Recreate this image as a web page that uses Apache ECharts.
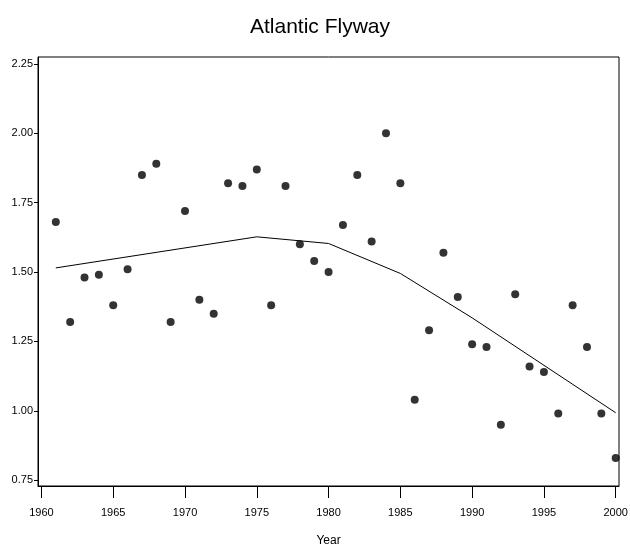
<!DOCTYPE html>
<html>
<head>
<meta charset="utf-8">
<script src="https://cdn.jsdelivr.net/npm/echarts@6/dist/echarts.min.js"></script>
<style>
html,body{margin:0;padding:0;background:#fff;}
#chart{width:630px;height:548px;}
</style>
</head>
<body>
<div id="chart"></div>
<script>
var years = [1961,1962,1963,1964,1965,1966,1967,1968,1969,1970,
             1971,1972,1973,1974,1975,1976,1977,1978,1979,1980,
             1981,1982,1983,1984,1985,1986,1987,1988,1989,1990,
             1991,1992,1993,1994,1995,1996,1997,1998,1999,2000];
var values = [1.68,1.32,1.48,1.49,1.38,1.51,1.85,1.89,1.32,1.72,
              1.40,1.35,1.82,1.81,1.87,1.38,1.81,1.60,1.54,1.50,
              1.67,1.85,1.61,2.00,1.82,1.04,1.29,1.57,1.41,1.24,
              1.23,0.95,1.42,1.16,1.14,0.99,1.38,1.23,0.99,0.83];
var fitYears = [1961,1975,1980,1985,1990,2000];
var fitValues = [1.515,1.627,1.603,1.495,1.335,0.993];
var xTicks = [1960,1965,1970,1975,1980,1985,1990,1995,2000];
var yTicks = [0.75,1.00,1.25,1.50,1.75,2.00,2.25];
var titleText = 'Atlantic Flyway';
var xName = 'Year';

var FONT = "'Liberation Sans Narrow','Liberation Sans',Arial,sans-serif";
var chart = echarts.init(document.getElementById('chart'), null, {renderer:'canvas'});
chart.setOption({
  animation:false,
  backgroundColor:'#fff',
  title:{
    text:titleText, left:245, top:12,
    textStyle:{fontFamily:FONT, fontSize:21, fontWeight:'normal', color:'#000'}
  },
  grid:{left:38, right:11, top:57, bottom:62, show:true, borderColor:'#000', borderWidth:1,
        containLabel:false, outerBoundsMode:'none'},
  xAxis:{
    type:'value', min:1959.76, max:2000.23,
    name:xName, nameLocation:'middle', nameGap:49,
    nameTextStyle:{fontFamily:FONT, fontSize:12, color:'#000'},
    axisLine:{show:true, onZero:false, lineStyle:{color:'#000', width:1}},
    axisTick:{show:true, length:12, customValues:xTicks, lineStyle:{color:'#000'}},
    axisLabel:{customValues:xTicks, margin:21, fontFamily:FONT, fontSize:11, color:'#000',
      formatter:function(v){return String(Math.round(v));}},
    splitLine:{show:false}
  },
  yAxis:{
    type:'value', min:0.729, max:2.275,
    axisLine:{show:true, onZero:false, lineStyle:{color:'#000', width:1}},
    axisTick:{show:true, length:4, customValues:yTicks, lineStyle:{color:'#000'}},
    axisLabel:{customValues:yTicks, margin:5, fontFamily:FONT, fontSize:11, color:'#000',
      formatter:function(v){return v.toFixed(2);}},
    splitLine:{show:false}
  },
  series:[
    {type:'scatter', data:years.map(function(y,i){return [y,values[i]];}),
     symbol:'circle', symbolSize:8, itemStyle:{color:'#000'}, silent:true},
    {type:'line', data:fitYears.map(function(y,i){return [y,fitValues[i]];}),
     symbol:'none', lineStyle:{color:'#000', width:1}, silent:true}
  ]
});
</script>
</body>
</html>
